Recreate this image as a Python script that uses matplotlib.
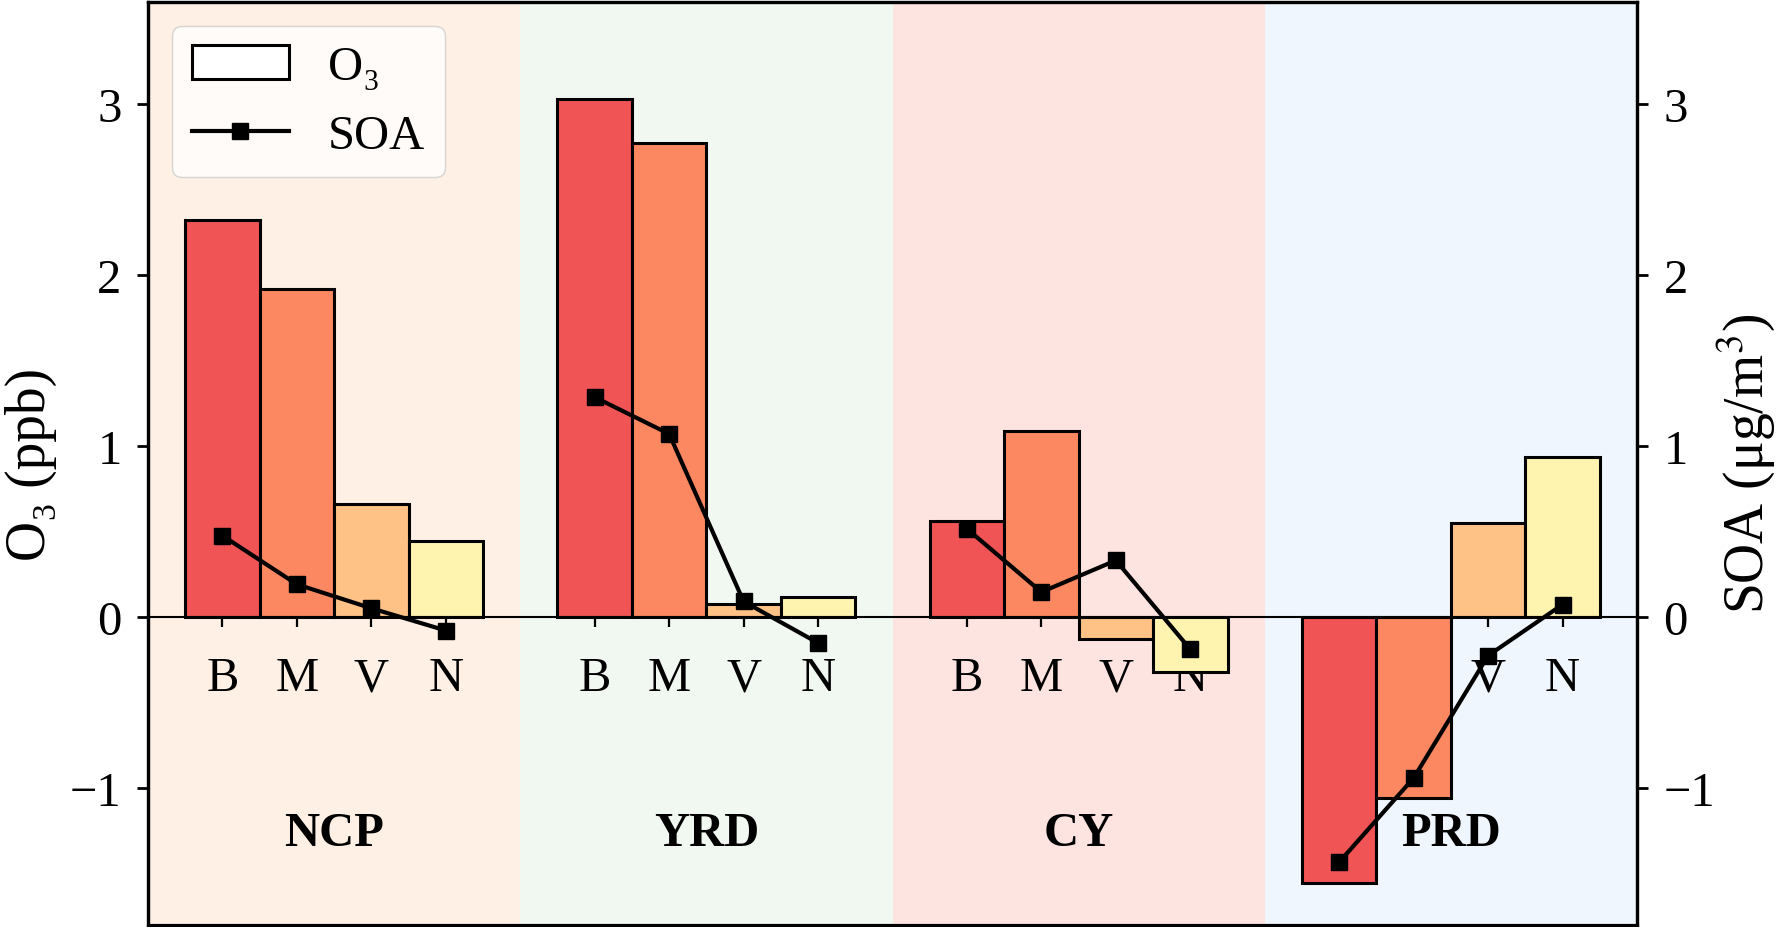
import matplotlib
matplotlib.use("Agg")
import matplotlib.pyplot as plt
from matplotlib.patches import Patch
from matplotlib.lines import Line2D
import numpy as np

plt.rcParams['font.family'] = ['Liberation Serif', 'DejaVu Serif']
plt.rcParams['mathtext.fontset'] = 'stix'

regions = ["NCP", "YRD", "CY", "PRD"]
sources = ["B", "M", "V", "N"]
o3 = {
    "NCP": [2.32, 1.92, 0.66, 0.445],
    "YRD": [3.03, 2.77, 0.075, 0.117],
    "CY":  [0.56, 1.09, -0.13, -0.323],
    "PRD": [-1.555, -1.057, 0.55, 0.933],
}
soa = {
    "NCP": [0.475, 0.19, 0.05, -0.08],
    "YRD": [1.285, 1.07, 0.09, -0.153],
    "CY":  [0.515, 0.145, 0.33, -0.19],
    "PRD": [-1.435, -0.943, -0.227, 0.072],
}
bar_colors = ["#F05454", "#FC8861", "#FEC287", "#FEF3AF"]
bg_colors = ["#FEF0E4", "#F1F8F1", "#FEE4E1", "#EFF6FD"]

FS = 35
LFS = 40
fig = plt.figure(figsize=(17.8, 9.28), dpi=100)
ax = fig.add_axes([148/1780, 2.5/928, (1637-148)/1780, 923/928])
ax2 = ax.twinx()

ymin, ymax = -1.8, 3.6
gap = 5
xticks, xlabels = [], []
for g, reg in enumerate(regions):
    base = g * gap
    ax.axvspan(base - 1, base + 4, color=bg_colors[g], lw=0, zorder=0)
    xs = base + np.arange(len(sources))
    ax.bar(xs, o3[reg], width=1.0, color=bar_colors, edgecolor='black',
           linewidth=2.2, zorder=2)
    ax2.plot(xs, soa[reg], color='black', lw=3, marker='s', markersize=12, zorder=3)
    ax.text(base + 1.5, -1.333, reg, ha='center', va='baseline',
            fontsize=FS, fontweight='bold')
    xticks += list(xs)
    xlabels += sources

ax.set_xlim(-1, 19)
ax.set_ylim(ymin, ymax)
ax2.set_ylim(ymin, ymax)

ax.spines['bottom'].set_position(('data', 0))
ax.spines['bottom'].set_linewidth(1.5)
for s in ['left', 'top', 'right']:
    ax.spines[s].set_linewidth(2.3)
for s in ['left', 'top', 'right', 'bottom']:
    ax2.spines[s].set_linewidth(2.3)

ax.set_xticks(xticks)
ax.set_xticklabels(xlabels)
ax.tick_params(axis='x', direction='out', length=7.5, width=1.6, pad=21, labelsize=FS)
ax.set_yticks([-1, 0, 1, 2, 3])
ax2.set_yticks([-1, 0, 1, 2, 3])
ax.tick_params(axis='y', length=8, width=2, pad=11, labelsize=FS)
ax2.tick_params(axis='y', length=8, width=2, pad=11, labelsize=FS)

ax.set_ylabel("O₃ (ppb)", fontsize=LFS)
ax2.set_ylabel("SOA (μg/m$^3$)", fontsize=LFS)
ax.yaxis.set_label_coords(-0.061, 0.5)
ax2.yaxis.set_label_coords(1.052, 0.5)

handles = [Patch(facecolor='white', edgecolor='black', linewidth=2.2),
           Line2D([], [], color='black', lw=3, marker='s', markersize=12)]
ax2.legend(handles, ["O₃", "SOA"], loc='upper left', fontsize=FS, framealpha=0.8,
           edgecolor='0.8', fancybox=True)

fig.savefig("out.png", dpi=100)
